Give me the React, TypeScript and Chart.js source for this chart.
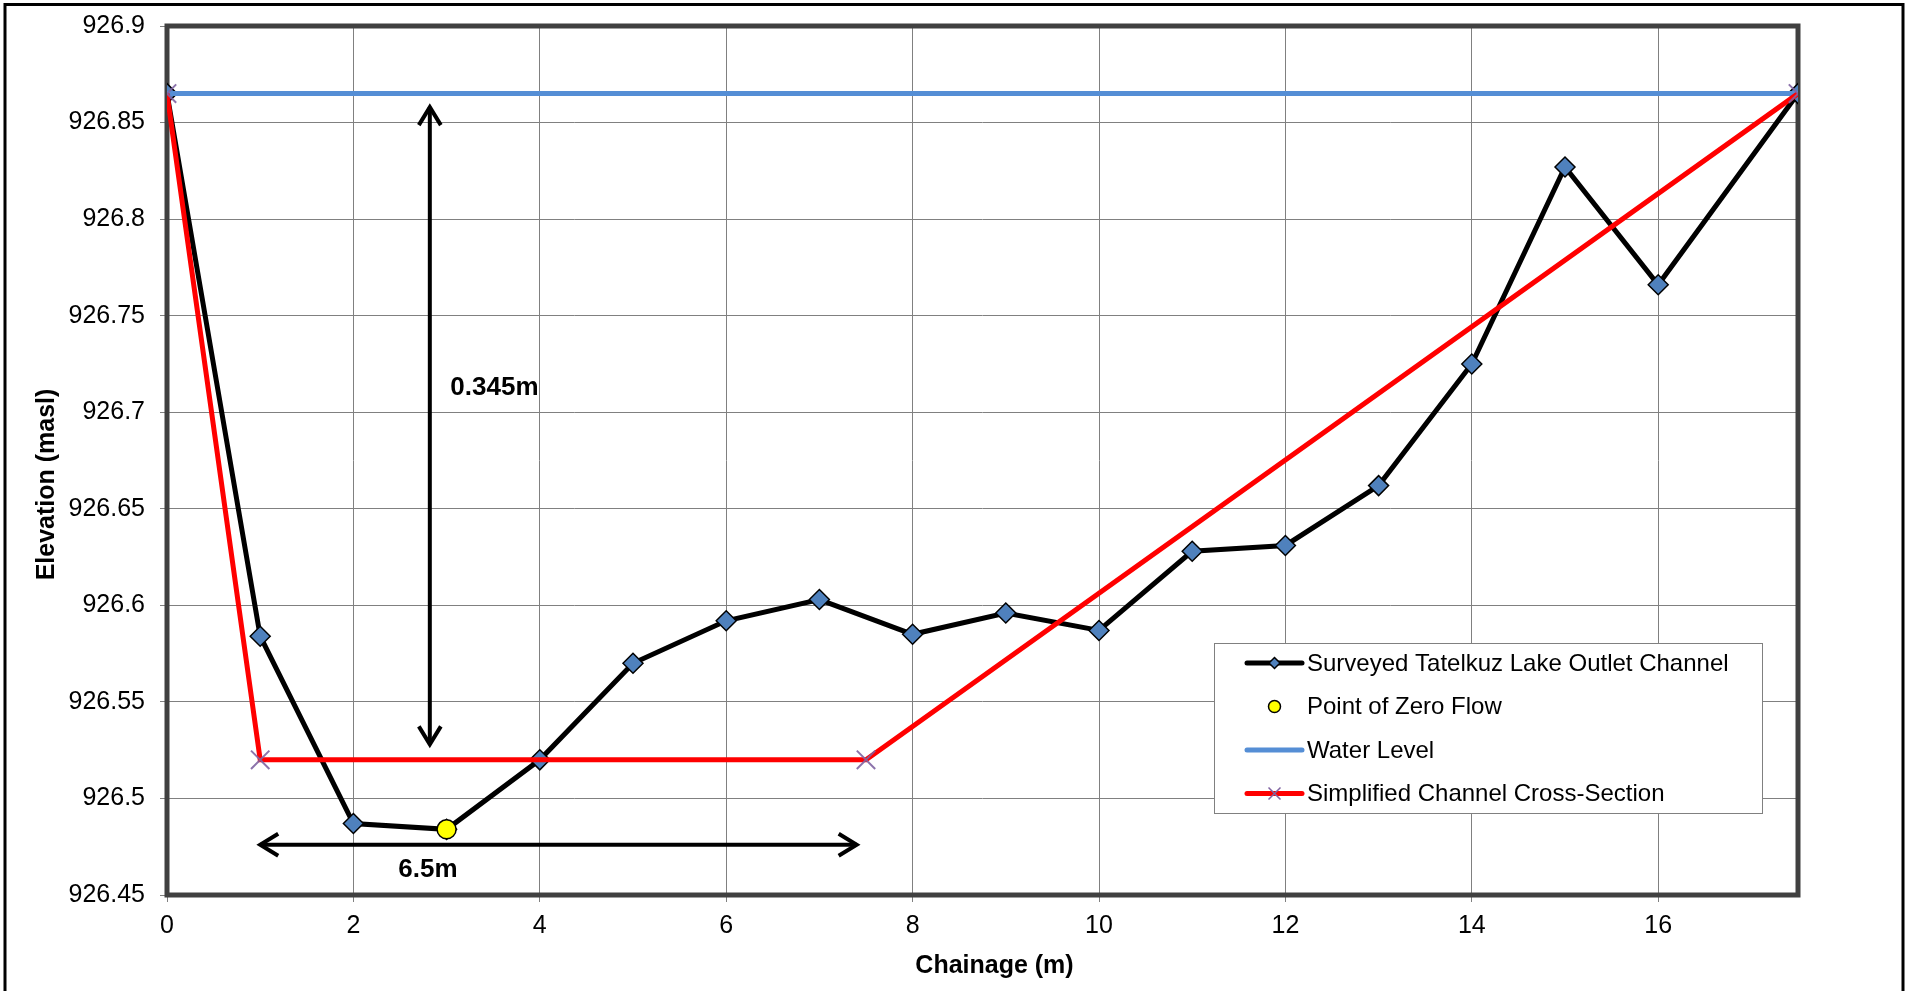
import React, { useEffect, useRef } from 'react';
import { Chart, registerables } from 'chart.js';

Chart.register(...registerables);

// ---------- data ----------
const chainage = [0, 1, 2, 3, 4, 5, 6, 7, 8, 9, 10, 11, 12, 13, 14, 15, 16, 17.5];
const surveyedElev = [
  926.865, 926.584, 926.487, 926.484, 926.52, 926.57, 926.592, 926.603, 926.585,
  926.596, 926.587, 926.628, 926.631, 926.662, 926.725, 926.827, 926.766, 926.865,
];
const zeroFlowX = [3];
const zeroFlowY = [926.484];
const waterLevelX = [0, 17.5];
const waterLevelY = [926.865, 926.865];
const simplifiedX = [0, 1, 7.5, 17.5];
const simplifiedY = [926.865, 926.52, 926.52, 926.865];

const seriesNames = [
  'Surveyed Tatelkuz Lake Outlet Channel',
  'Point of Zero Flow',
  'Water Level',
  'Simplified Channel Cross-Section',
];

const xRange = [0, 17.5];
const xStep = 2;
const yRange = [926.45, 926.9];
const yStep = 0.05;

const xTitle = 'Chainage (m)';
const yTitle = 'Elevation (masl)';

// annotation arrows (data coordinates)
const depthArrowX = [2.82, 2.82];
const depthArrowY = [926.528, 926.858];
const depthLabel = '0.345m';
const depthLabelPos = [3.04, 926.7125];
const widthArrowX = [1.0, 7.4];
const widthArrowY = [926.476, 926.476];
const widthLabel = '6.5m';
const widthLabelPos = [2.8, 926.463];

const FONT = '"Liberation Sans", Arial, sans-serif';

const toPts = (xs: number[], ys: number[]) => xs.map((x, i) => ({ x, y: ys[i] }));

function drawDiamond(ctx: CanvasRenderingContext2D, x: number, y: number, r: number) {
  ctx.beginPath();
  ctx.moveTo(x, y - r);
  ctx.lineTo(x + r, y);
  ctx.lineTo(x, y + r);
  ctx.lineTo(x - r, y);
  ctx.closePath();
  ctx.fillStyle = '#4F81BD';
  ctx.fill();
  ctx.lineWidth = 1.5;
  ctx.strokeStyle = '#000';
  ctx.stroke();
}

function drawArrowHead(ctx: CanvasRenderingContext2D, tx: number, ty: number, dx: number, dy: number) {
  const along = 18;
  const perp = 11;
  const bx = tx - dx * along;
  const by = ty - dy * along;
  ctx.beginPath();
  ctx.moveTo(bx - dy * perp, by + dx * perp);
  ctx.lineTo(tx, ty);
  ctx.lineTo(bx + dy * perp, by - dx * perp);
  ctx.stroke();
}

const decorPlugin = {
  id: 'decor',
  beforeDatasetsDraw(chart: any) {
    const { ctx, chartArea } = chart;
    ctx.save();
    ctx.strokeStyle = '#404040';
    ctx.lineWidth = 5;
    ctx.strokeRect(chartArea.left, chartArea.top, chartArea.right - chartArea.left, chartArea.bottom - chartArea.top);
    ctx.restore();
  },
  afterDatasetsDraw(chart: any) {
    const { ctx, scales } = chart;
    const xs = scales.x;
    const ys = scales.y;
    ctx.save();
    ctx.strokeStyle = '#000';
    ctx.lineWidth = 4;
    ctx.lineJoin = 'miter';
    ctx.lineCap = 'butt';
    const vx = xs.getPixelForValue(depthArrowX[0]);
    const vy1 = ys.getPixelForValue(depthArrowY[0]);
    const vy2 = ys.getPixelForValue(depthArrowY[1]);
    ctx.beginPath();
    ctx.moveTo(vx, vy1);
    ctx.lineTo(vx, vy2);
    ctx.stroke();
    drawArrowHead(ctx, vx, vy1, 0, 1);
    drawArrowHead(ctx, vx, vy2, 0, -1);
    const hx1 = xs.getPixelForValue(widthArrowX[0]);
    const hx2 = xs.getPixelForValue(widthArrowX[1]);
    const hy = ys.getPixelForValue(widthArrowY[0]);
    ctx.beginPath();
    ctx.moveTo(hx1, hy);
    ctx.lineTo(hx2, hy);
    ctx.stroke();
    drawArrowHead(ctx, hx1, hy, -1, 0);
    drawArrowHead(ctx, hx2, hy, 1, 0);
    ctx.fillStyle = '#000';
    ctx.font = `bold 26px ${FONT}`;
    ctx.textBaseline = 'middle';
    ctx.textAlign = 'left';
    ctx.fillText(depthLabel, xs.getPixelForValue(depthLabelPos[0]), ys.getPixelForValue(depthLabelPos[1]));
    ctx.textAlign = 'center';
    ctx.fillText(widthLabel, xs.getPixelForValue(widthLabelPos[0]), ys.getPixelForValue(widthLabelPos[1]));
    ctx.restore();
  },
  afterDraw(chart: any) {
    const { ctx, chartArea } = chart;
    ctx.save();
    // outer frame
    ctx.strokeStyle = '#000';
    ctx.lineWidth = 3;
    ctx.strokeRect(5, 4.5, 1898, 1100);

    // axis titles
    ctx.fillStyle = '#000';
    ctx.font = `bold 25px ${FONT}`;
    ctx.textAlign = 'center';
    ctx.textBaseline = 'middle';
    const cx = (chartArea.left + chartArea.right) / 2;
    const cy = (chartArea.top + chartArea.bottom) / 2;
    ctx.fillText(xTitle, cx + 12, chartArea.bottom + 71);
    ctx.save();
    ctx.translate(chartArea.left - 120, cy + 24);
    ctx.rotate(-Math.PI / 2);
    ctx.fillText(yTitle, 0, 0);
    ctx.restore();

    // legend box
    const right = chartArea.right - 36;
    const bottom = chartArea.bottom - 82;
    const w = 548;
    const h = 170;
    const left = right - w;
    const top = bottom - h;
    ctx.fillStyle = '#fff';
    ctx.fillRect(left, top, w, h);
    ctx.strokeStyle = '#808080';
    ctx.lineWidth = 1;
    ctx.strokeRect(left + 0.5, top + 0.5, w, h);

    const sx1 = left + 33;
    const sx2 = left + 88;
    const sc = (sx1 + sx2) / 2;
    const tx = left + 93;
    ctx.font = `24px ${FONT}`;
    ctx.textBaseline = 'middle';
    ctx.textAlign = 'left';
    seriesNames.forEach((name, i) => {
      const y = top + 20 + i * 43.5;
      ctx.lineCap = 'round';
      if (i === 0) {
        ctx.strokeStyle = '#000';
        ctx.lineWidth = 5;
        ctx.beginPath();
        ctx.moveTo(sx1, y);
        ctx.lineTo(sx2, y);
        ctx.stroke();
        drawDiamond(ctx, sc, y, 5.5);
      } else if (i === 1) {
        ctx.beginPath();
        ctx.arc(sc, y, 6, 0, Math.PI * 2);
        ctx.fillStyle = '#FFFF00';
        ctx.fill();
        ctx.strokeStyle = '#000';
        ctx.lineWidth = 1.5;
        ctx.stroke();
      } else if (i === 2) {
        ctx.strokeStyle = '#558ED5';
        ctx.lineWidth = 5;
        ctx.beginPath();
        ctx.moveTo(sx1, y);
        ctx.lineTo(sx2, y);
        ctx.stroke();
      } else {
        ctx.strokeStyle = '#FF0000';
        ctx.lineWidth = 5;
        ctx.beginPath();
        ctx.moveTo(sx1, y);
        ctx.lineTo(sx2, y);
        ctx.stroke();
        ctx.strokeStyle = '#8064A2';
        ctx.lineWidth = 1.5;
        ctx.lineCap = 'butt';
        ctx.beginPath();
        ctx.moveTo(sc - 6, y - 6);
        ctx.lineTo(sc + 6, y + 6);
        ctx.moveTo(sc + 6, y - 6);
        ctx.lineTo(sc - 6, y + 6);
        ctx.stroke();
      }
      ctx.fillStyle = '#000';
      ctx.fillText(name, tx, y + 1);
    });
    ctx.restore();
  },
};

export default function App() {
  const canvasRef = useRef<HTMLCanvasElement | null>(null);

  useEffect(() => {
    document.body.style.margin = '0';
    document.body.style.overflow = 'hidden';
    const canvas = canvasRef.current;
    if (!canvas) return;

    const tickFont = { family: FONT, size: 25 };

    const chart = new Chart(canvas, {
      type: 'line',
      data: {
        datasets: [
          {
            label: seriesNames[1],
            data: toPts(zeroFlowX, zeroFlowY),
            showLine: false,
            pointStyle: 'circle',
            pointRadius: 9.5,
            pointBackgroundColor: '#FFFF00',
            pointBorderColor: '#000',
            pointBorderWidth: 1.5,
            order: 0,
          },
          {
            label: seriesNames[3],
            data: toPts(simplifiedX, simplifiedY),
            borderColor: '#FF0000',
            borderWidth: 5,
            pointStyle: 'crossRot',
            pointRadius: 13,
            pointBorderColor: 'rgba(128,100,162,0.9)',
            pointBorderWidth: 2,
            tension: 0,
            order: 1,
          },
          {
            label: seriesNames[2],
            data: toPts(waterLevelX, waterLevelY),
            borderColor: '#558ED5',
            borderWidth: 5,
            pointRadius: 0,
            order: 2,
          },
          {
            label: seriesNames[0],
            data: toPts(chainage, surveyedElev),
            borderColor: '#000',
            borderWidth: 5,
            pointStyle: 'rectRot',
            pointRadius: 10,
            pointBackgroundColor: '#4F81BD',
            pointBorderColor: '#000',
            pointBorderWidth: 1.5,
            tension: 0,
            order: 3,
          },
        ],
      },
      options: {
        animation: false,
        responsive: false,
        maintainAspectRatio: false,
        layout: { padding: { left: 0, top: 26, right: 109, bottom: 0 } },
        plugins: {
          legend: { display: false },
          tooltip: { enabled: false },
        },
        scales: {
          x: {
            type: 'linear',
            min: xRange[0],
            max: xRange[1],
            ticks: {
              stepSize: xStep,
              includeBounds: false,
              font: tickFont,
              color: '#000',
              padding: 9,
              maxRotation: 0,
              callback: (v: any) => String(Number(v)),
            },
            grid: { color: '#808080', lineWidth: 1, tickLength: 7, drawTicks: true },
            border: { display: false },
            title: { display: false },
            afterFit: (s: any) => {
              s.height = 96;
              s.paddingLeft = 0;
              s.paddingRight = 0;
            },
          },
          y: {
            type: 'linear',
            min: yRange[0],
            max: yRange[1],
            ticks: {
              stepSize: yStep,
              font: tickFont,
              color: '#000',
              padding: 15,
              callback: (v: any) => String(Number(Number(v).toFixed(3))),
            },
            grid: { color: '#808080', lineWidth: 1, tickLength: 7, drawTicks: true },
            border: { display: false },
            title: { display: false },
            afterFit: (s: any) => {
              s.width = 167;
              s.paddingTop = 0;
              s.paddingBottom = 0;
            },
          },
        },
      },
      plugins: [decorPlugin],
    });

    return () => chart.destroy();
  }, []);

  return (
    <div style={{ width: 1907, height: 991, background: '#fff' }}>
      <canvas ref={canvasRef} width={1907} height={991} style={{ display: 'block' }} />
    </div>
  );
}
